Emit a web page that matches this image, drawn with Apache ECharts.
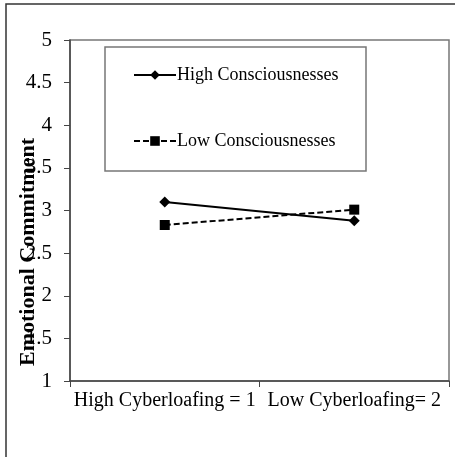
<!DOCTYPE html>
<html>
<head>
<meta charset="utf-8">
<script src="https://cdn.jsdelivr.net/npm/echarts@6/dist/echarts.min.js"></script>
<style>html,body{margin:0;padding:0;background:#fff;}#c{width:455px;height:457px;}</style>
</head>
<body>
<div id="c"></div>
<script>
const categories = ['High Cyberloafing = 1', 'Low Cyberloafing= 2'];
const highConsc = [3.1, 2.88];
const lowConsc = [2.83, 3.01];
const yTicks = { min: 1, max: 5, interval: 0.5 };
const seriesNames = ['High Consciousnesses', 'Low Consciousnesses'];
const yTitle = 'Emotional Commitment';

const chart = echarts.init(document.getElementById('c'), null, { renderer: 'canvas' });
const font = 'Liberation Serif, Times New Roman, serif';
chart.setOption({
  animation: false,
  backgroundColor: '#fff',
  grid: { left: 70, top: 40, right: 6, bottom: 76, show: true, borderColor: '#777', borderWidth: 1.5, containLabel: false, outerBoundsMode: 'none' },
  legend: {
    orient: 'vertical', left: 128, top: 61, itemWidth: 42, itemHeight: 12, itemGap: 48,
    textStyle: { fontFamily: font, fontSize: 18, color: '#000', padding: [0, 0, 0, -4] },
    data: seriesNames
  },
  xAxis: {
    type: 'category', data: categories, boundaryGap: true,
    axisLine: { lineStyle: { color: '#444', width: 1.5 } },
    axisTick: { show: true, length: 6, inside: false, lineStyle: { color: '#444' } },
    axisLabel: { fontFamily: font, fontSize: 20, color: '#000', margin: 10, interval: 0, hideOverlap: false }
  },
  yAxis: {
    type: 'value', min: yTicks.min, max: yTicks.max, interval: yTicks.interval,
    splitLine: { show: false },
    axisLine: { show: true, lineStyle: { color: '#444', width: 1.5 } },
    axisTick: { show: true, length: 6, lineStyle: { color: '#444' } },
    axisLabel: { fontFamily: font, fontSize: 21, color: '#000', margin: 18 }
  },
  graphic: [
    { type: 'rect', shape: { x: 6, y: 4, width: 470, height: 470 }, style: { fill: 'none', stroke: '#333', lineWidth: 1.5 }, silent: true },
    { type: 'rect', shape: { x: 105, y: 47, width: 261, height: 124 }, style: { fill: 'none', stroke: '#777', lineWidth: 1.5 }, silent: true, z: 10 },
    { type: 'text', x: 28, y: 252, rotation: Math.PI / 2, z: 20,
      style: { text: yTitle, font: 'bold 22px ' + font, fill: '#000', align: 'center', verticalAlign: 'middle' } }
  ],
  series: [
    { name: seriesNames[0], type: 'line', data: highConsc, symbol: 'diamond', symbolSize: 11,
      lineStyle: { color: '#000', width: 2 }, itemStyle: { color: '#000' } },
    { name: seriesNames[1], type: 'line', data: lowConsc, symbol: 'rect', symbolSize: 10,
      lineStyle: { color: '#000', width: 2, type: [6, 3] }, itemStyle: { color: '#000' } }
  ]
});
</script>
</body>
</html>
